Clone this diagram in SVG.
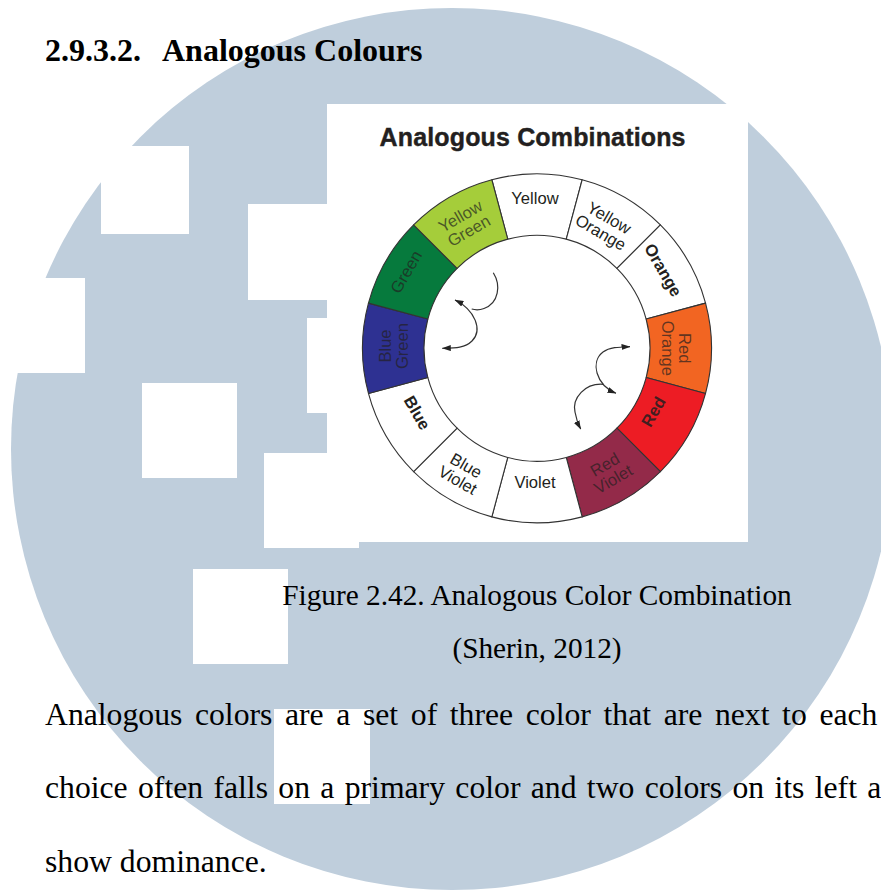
<svg xmlns="http://www.w3.org/2000/svg" width="881" height="891" viewBox="0 0 881 891">
<style>
.hole{fill:#ffffff}
.serif{font-family:"Liberation Serif","Times New Roman",serif;fill:#000}
.lbl{font-family:"Liberation Sans",Arial,sans-serif;font-size:16.6px;fill:#231F20;text-anchor:middle}
.dim{fill-opacity:0.7}
.b{font-weight:bold}
.seg{stroke:#333;stroke-width:1.1;stroke-linejoin:round}
.arr{fill:none;stroke:#333;stroke-width:1.2}
</style>
<defs>
<marker id="ah" viewBox="0 0 9 6" refX="8.5" refY="3" markerWidth="9" markerHeight="6" markerUnits="userSpaceOnUse" orient="auto-start-reverse">
<path d="M0,0 L9,3 L0,6 Z" fill="#222"/>
</marker>
</defs>
<rect x="0" y="0" width="881" height="891" fill="#ffffff"/>
<g id="watermark">
<ellipse cx="452" cy="449" rx="441" ry="441" fill="#BFCEDC"/>
<rect class="hole" x="101" y="146" width="88" height="88"/>
<rect class="hole" x="248" y="204" width="90" height="96"/>
<rect class="hole" x="-10" y="278" width="95" height="95"/>
<rect class="hole" x="142" y="383" width="95" height="95"/>
<rect class="hole" x="307" y="318" width="95" height="95"/>
<rect class="hole" x="264" y="453" width="95" height="95"/>
<rect class="hole" x="193" y="569" width="95" height="95"/>
<rect class="hole" x="274" y="709" width="96" height="95"/>
</g>
<g id="heading">
<text class="serif" x="45" y="61" font-size="32" font-weight="bold">2.9.3.2.</text>
<text class="serif" x="162" y="61" font-size="32" font-weight="bold">Analogous Colours</text>
</g>
<g id="figure">
<rect x="327" y="104" width="421" height="438" fill="#ffffff"/>
<text id="figure-title" x="532.5" y="145.7" font-family="'Liberation Sans',Arial,sans-serif" font-size="25" font-weight="bold" fill="#231F20" stroke="#231F20" stroke-width="0.4" text-anchor="middle" textLength="306" lengthAdjust="spacing">Analogous Combinations</text>
<g id="seg-yellow"><path class="seg" fill="#ffffff" d="M491.84,179.75 A174.5,174.5 0 0 1 582.16,179.75 L566.25,239.15 A113,113 0 0 0 507.75,239.15 Z"/>
<text class="lbl" transform="translate(535,197.7)" y="5.9">Yellow</text></g>
<g id="seg-yellow-orange"><path class="seg" fill="#ffffff" d="M582.16,179.75 A174.5,174.5 0 0 1 660.39,224.91 L616.9,268.4 A113,113 0 0 0 566.25,239.15 Z"/>
<text class="lbl" transform="translate(605,225) rotate(30)"><tspan x="0" y="-2.5">Yellow</tspan><tspan x="0" y="14.3">Orange</tspan></text></g>
<g id="seg-orange"><path class="seg" fill="#ffffff" d="M660.39,224.91 A174.5,174.5 0 0 1 705.55,303.14 L646.15,319.05 A113,113 0 0 0 616.9,268.4 Z"/>
<text class="lbl b" transform="translate(663.3,270) rotate(60)" y="5.9">Orange</text></g>
<g id="seg-red-orange"><path class="seg" fill="#F26522" d="M705.55,303.14 A174.5,174.5 0 0 1 705.55,393.46 L646.15,377.55 A113,113 0 0 0 646.15,319.05 Z"/>
<text class="lbl dim" transform="translate(676.7,348.3) rotate(90)"><tspan x="0" y="-2.5">Red</tspan><tspan x="0" y="14.3">Orange</tspan></text></g>
<g id="seg-red"><path class="seg" fill="#ED1C24" d="M705.55,393.46 A174.5,174.5 0 0 1 660.39,471.69 L616.9,428.2 A113,113 0 0 0 646.15,377.55 Z"/>
<text class="lbl b" fill-opacity="0.85" transform="translate(653.3,411.7) rotate(-60)" y="5.9">Red</text></g>
<g id="seg-red-violet"><path class="seg" fill="#932A49" d="M660.39,471.69 A174.5,174.5 0 0 1 582.16,516.85 L566.25,457.45 A113,113 0 0 0 616.9,428.2 Z"/>
<text class="lbl dim" transform="translate(609,471.7) rotate(-30)"><tspan x="0" y="-2.5">Red</tspan><tspan x="0" y="14.3">Violet</tspan></text></g>
<g id="seg-violet"><path class="seg" fill="#ffffff" d="M582.16,516.85 A174.5,174.5 0 0 1 491.84,516.85 L507.75,457.45 A113,113 0 0 0 566.25,457.45 Z"/>
<text class="lbl" transform="translate(535,481.7)" y="5.9">Violet</text></g>
<g id="seg-blue-violet"><path class="seg" fill="#ffffff" d="M491.84,516.85 A174.5,174.5 0 0 1 413.61,471.69 L457.1,428.2 A113,113 0 0 0 507.75,457.45 Z"/>
<text class="lbl" transform="translate(462,472.7) rotate(30)"><tspan x="0" y="-2.5">Blue</tspan><tspan x="0" y="14.3">Violet</tspan></text></g>
<g id="seg-blue"><path class="seg" fill="#ffffff" d="M413.61,471.69 A174.5,174.5 0 0 1 368.45,393.46 L427.85,377.55 A113,113 0 0 0 457.1,428.2 Z"/>
<text class="lbl b" transform="translate(417.3,412.7) rotate(60)" y="5.9">Blue</text></g>
<g id="seg-blue-green"><path class="seg" fill="#2E3192" d="M368.45,393.46 A174.5,174.5 0 0 1 368.45,303.14 L427.85,319.05 A113,113 0 0 0 427.85,377.55 Z"/>
<text class="lbl dim" transform="translate(393.3,346) rotate(-90)"><tspan x="0" y="-2.5">Blue</tspan><tspan x="0" y="14.3">Green</tspan></text></g>
<g id="seg-green"><path class="seg" fill="#067A3D" d="M368.45,303.14 A174.5,174.5 0 0 1 413.61,224.91 L457.1,268.4 A113,113 0 0 0 427.85,319.05 Z"/>
<text class="lbl dim" transform="translate(406,271.7) rotate(-60)" y="5.9">Green</text></g>
<g id="seg-yellow-green"><path class="seg" fill="#A5CD3A" d="M413.61,224.91 A174.5,174.5 0 0 1 491.84,179.75 L507.75,239.15 A113,113 0 0 0 457.1,268.4 Z"/>
<text class="lbl dim" transform="translate(464.5,223.3) rotate(-30)"><tspan x="0" y="-2.5">Yellow</tspan><tspan x="0" y="14.3">Green</tspan></text></g>
</g>
<g id="connectors">
<path class="arr" d="M493.3,272.7 C501,285 499,303 484,308.5 C480,310 475,310 471.7,309"/>
<path class="arr" marker-start="url(#ah)" marker-end="url(#ah)" d="M455,300 C475,310 483,330 472,341 C465,348 455,348 442.3,348.3"/>
<path class="arr" marker-start="url(#ah)" marker-end="url(#ah)" d="M616,393.3 C596,385 590,362 603,352 C610,347 620,347 630,346.7"/>
<path class="arr" marker-end="url(#ah)" d="M603.3,384.3 C585,383 572,398 575,412 C576,418 578,424 580.7,429"/>
</g>
<g id="caption">
<text class="serif" x="537" y="605" font-size="29.3" text-anchor="middle">Figure 2.42. Analogous Color Combination</text>
<text class="serif" x="537" y="658.3" font-size="29.3" text-anchor="middle">(Sherin, 2012)</text>
</g>
<g id="body">
<text class="serif" x="45" y="725" font-size="31.7" word-spacing="4.7">Analogous colors are a set of three color that are next to each</text>
<text class="serif" x="45" y="797.7" font-size="31.7" word-spacing="2.4">choice often falls on a primary color and two colors on its left a</text>
<text class="serif" x="45" y="871.7" font-size="31.7">show dominance.</text>
</g>
</svg>
